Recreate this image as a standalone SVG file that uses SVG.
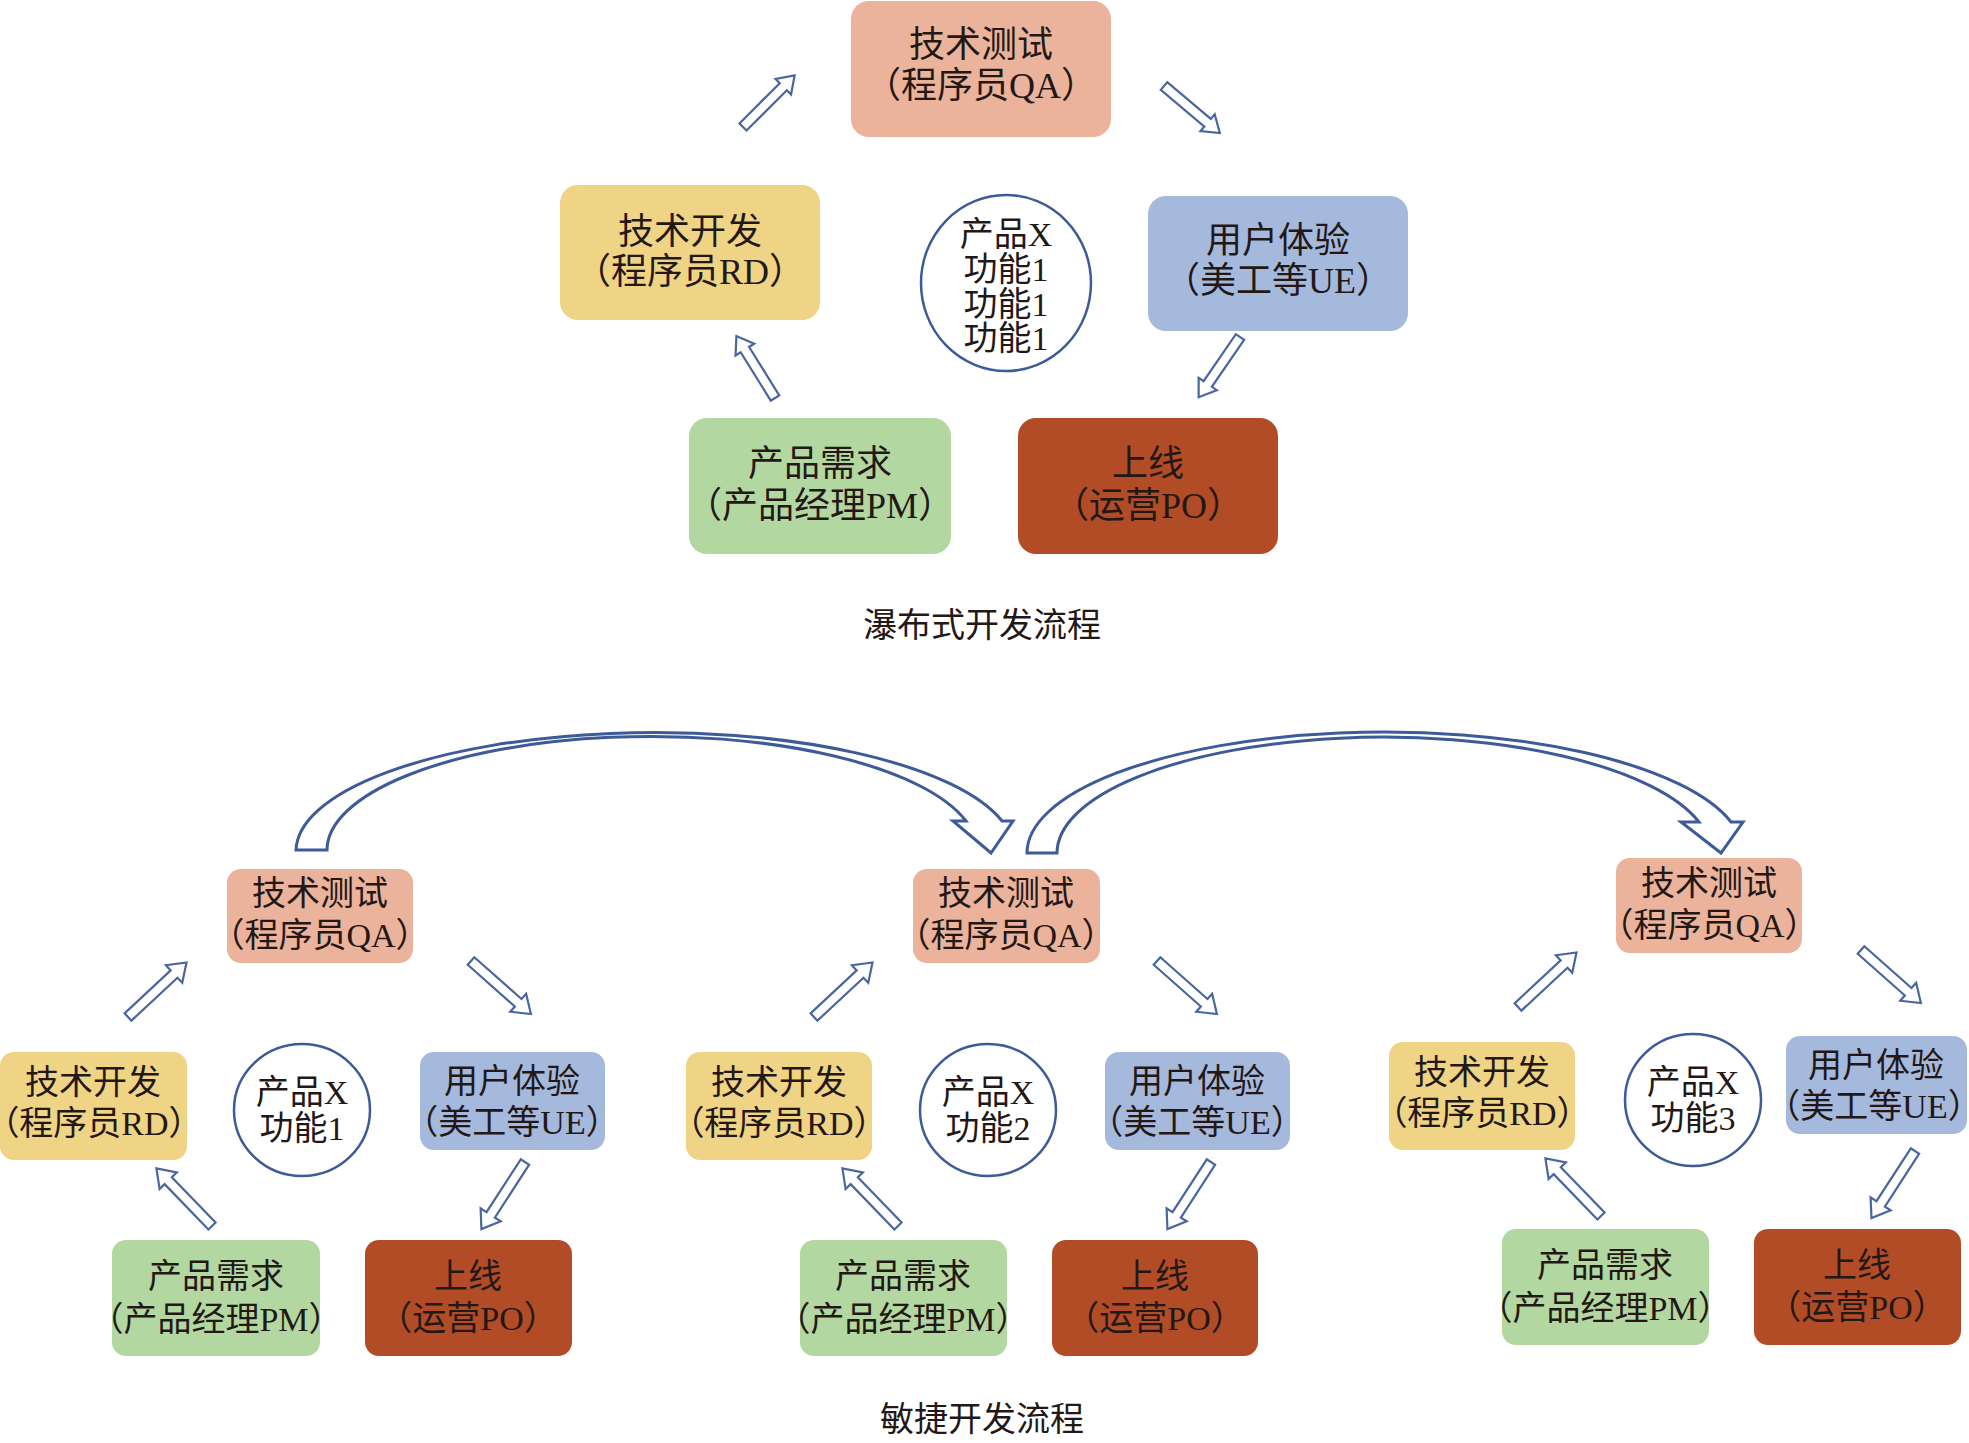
<svg xmlns="http://www.w3.org/2000/svg" xmlns:xlink="http://www.w3.org/1999/xlink" width="1969" height="1443" viewBox="0 0 1969 1443">
<style>
.qa{fill:#ebb39b}.rd{fill:#efd485}.ue{fill:#a5b9dd}.pm{fill:#b2d7a0}.po{fill:#b14c26}
text{font-family:"Liberation Serif","Noto Sans CJK SC",serif;fill:#231815;text-anchor:middle;font-feature-settings:"halt" 1}
.t1{font-size:36px}.t2{font-size:34px}
.cir{fill:#fff;stroke:#3d5a99;stroke-width:2.5}
.arr{fill:#fff;stroke:#4a66a0;stroke-width:2.2;stroke-linejoin:miter}
.curve{fill:#fff;stroke:#3d5a99;stroke-width:3}
</style>
<defs>
<path id="a1" d="M0,-5 H57 V-11 L73,0 L57,11 V5 H0 Z"/>
<path id="a2" d="M0,-5 H63 V-12 L80,0 L63,12 V5 H0 Z"/>
</defs>
<rect width="1969" height="1443" fill="#fff"/>

<!-- Waterfall -->
<g id="w-qa"><rect class="qa" x="851" y="1" width="260" height="136" rx="18"/><text class="t1" x="981" y="57">技术测试</text><text class="t1" x="981" y="98">（程序员QA）</text></g>
<g id="w-rd"><rect class="rd" x="560" y="185" width="260" height="135" rx="18"/><text class="t1" x="690" y="244">技术开发</text><text class="t1" x="690" y="284">（程序员RD）</text></g>
<g id="w-center"><ellipse class="cir" cx="1006" cy="283" rx="85" ry="88"/><text class="t2" x="1006" y="246">产品X</text><text class="t2" x="1006" y="281">功能1</text><text class="t2" x="1006" y="316">功能1</text><text class="t2" x="1006" y="350">功能1</text></g>
<g id="w-ue"><rect class="ue" x="1148" y="196" width="260" height="135" rx="18"/><text class="t1" x="1278" y="253">用户体验</text><text class="t1" x="1278" y="293">（美工等UE）</text></g>
<g id="w-pm"><rect class="pm" x="689" y="418" width="262" height="136" rx="18"/><text class="t1" x="820" y="476">产品需求</text><text class="t1" x="820" y="518">（产品经理PM）</text></g>
<g id="w-po"><rect class="po" x="1018" y="418" width="260" height="136" rx="18"/><text class="t1" x="1148" y="476">上线</text><text class="t1" x="1148" y="518">（运营PO）</text></g>
<text id="title1" class="t2" x="982" y="637">瀑布式开发流程</text>

<!-- Agile group 1 -->
<g id="g1-qa"><rect class="qa" x="227" y="869" width="186" height="94" rx="14"/><text class="t2" x="320" y="905">技术测试</text><text class="t2" x="320" y="947">（程序员QA）</text></g>
<g id="g1-rd"><rect class="rd" x="0" y="1052" width="187" height="108" rx="14"/><text class="t2" x="93" y="1094">技术开发</text><text class="t2" x="94" y="1135">（程序员RD）</text></g>
<g id="g1-c"><ellipse class="cir" cx="302" cy="1110" rx="68" ry="66"/><text class="t2" x="302" y="1104">产品X</text><text class="t2" x="302" y="1140">功能1</text></g>
<g id="g1-ue"><rect class="ue" x="420" y="1052" width="185" height="98" rx="14"/><text class="t2" x="512" y="1093">用户体验</text><text class="t2" x="512" y="1134">（美工等UE）</text></g>
<g id="g1-pm"><rect class="pm" x="112" y="1240" width="208" height="116" rx="14"/><text class="t2" x="216" y="1288">产品需求</text><text class="t2" x="216" y="1331">（产品经理PM）</text></g>
<g id="g1-po"><rect class="po" x="365" y="1240" width="207" height="116" rx="14"/><text class="t2" x="468" y="1288">上线</text><text class="t2" x="468" y="1330">（运营PO）</text></g>

<!-- Agile group 2 -->
<g id="g2-qa"><rect class="qa" x="913" y="869" width="187" height="94" rx="14"/><text class="t2" x="1006" y="905">技术测试</text><text class="t2" x="1006" y="947">（程序员QA）</text></g>
<g id="g2-rd"><rect class="rd" x="686" y="1052" width="186" height="108" rx="14"/><text class="t2" x="779" y="1094">技术开发</text><text class="t2" x="779" y="1135">（程序员RD）</text></g>
<g id="g2-c"><ellipse class="cir" cx="988" cy="1110" rx="68" ry="66"/><text class="t2" x="988" y="1104">产品X</text><text class="t2" x="988" y="1140">功能2</text></g>
<g id="g2-ue"><rect class="ue" x="1105" y="1052" width="185" height="98" rx="14"/><text class="t2" x="1197" y="1093">用户体验</text><text class="t2" x="1197" y="1134">（美工等UE）</text></g>
<g id="g2-pm"><rect class="pm" x="800" y="1240" width="207" height="116" rx="14"/><text class="t2" x="903" y="1288">产品需求</text><text class="t2" x="903" y="1331">（产品经理PM）</text></g>
<g id="g2-po"><rect class="po" x="1052" y="1240" width="206" height="116" rx="14"/><text class="t2" x="1155" y="1288">上线</text><text class="t2" x="1155" y="1330">（运营PO）</text></g>

<!-- Agile group 3 -->
<g id="g3-qa"><rect class="qa" x="1616" y="858" width="186" height="95" rx="14"/><text class="t2" x="1709" y="895">技术测试</text><text class="t2" x="1709" y="937">（程序员QA）</text></g>
<g id="g3-rd"><rect class="rd" x="1389" y="1042" width="186" height="108" rx="14"/><text class="t2" x="1482" y="1084">技术开发</text><text class="t2" x="1482" y="1125">（程序员RD）</text></g>
<g id="g3-c"><ellipse class="cir" cx="1693" cy="1100" rx="68" ry="66"/><text class="t2" x="1693" y="1094">产品X</text><text class="t2" x="1693" y="1130">功能3</text></g>
<g id="g3-ue"><rect class="ue" x="1786" y="1036" width="181" height="98" rx="14"/><text class="t2" x="1876" y="1077">用户体验</text><text class="t2" x="1874" y="1118">（美工等UE）</text></g>
<g id="g3-pm"><rect class="pm" x="1502" y="1229" width="207" height="116" rx="14"/><text class="t2" x="1605" y="1277">产品需求</text><text class="t2" x="1605" y="1320">（产品经理PM）</text></g>
<g id="g3-po"><rect class="po" x="1754" y="1229" width="207" height="116" rx="14"/><text class="t2" x="1857" y="1277">上线</text><text class="t2" x="1857" y="1319">（运营PO）</text></g>

<text id="title2" class="t2" x="982" y="1431">敏捷开发流程</text>

<g id="connectors">
<use href="#a1" class="arr" transform="translate(743,127) rotate(-45)"/>
<use href="#a1" class="arr" transform="translate(1164,86) rotate(40.1)"/>
<use href="#a1" class="arr" transform="translate(1240,337) rotate(124.5)"/>
<use href="#a1" class="arr" transform="translate(775,398) rotate(-121.9)"/>

<use href="#a2" class="arr" transform="translate(128,1017) rotate(-43)"/>
<use href="#a2" class="arr" transform="translate(471,961) rotate(41.5)"/>
<use href="#a2" class="arr" transform="translate(525,1162) rotate(123)"/>
<use href="#a2" class="arr" transform="translate(212,1226) rotate(-134)"/>

<use href="#a2" class="arr" transform="translate(814,1017) rotate(-43)"/>
<use href="#a2" class="arr" transform="translate(1157,961) rotate(41.5)"/>
<use href="#a2" class="arr" transform="translate(1211,1162) rotate(123)"/>
<use href="#a2" class="arr" transform="translate(898,1226) rotate(-134)"/>

<use href="#a2" class="arr" transform="translate(1518,1007) rotate(-43)"/>
<use href="#a2" class="arr" transform="translate(1861,950) rotate(41.5)"/>
<use href="#a2" class="arr" transform="translate(1915,1151) rotate(123)"/>
<use href="#a2" class="arr" transform="translate(1601,1216) rotate(-134)"/>

<path class="curve" d="M296,850 A359,119 0 0 1 1002,821 L1013,821 L991,853 L953,821 L966,821 A325,114 0 0 0 327,850 Z"/>
<path class="curve" d="M1027,853 A358,121 0 0 1 1731,822 L1743,822 L1721,853 L1681,822 L1699,822 A327,116 0 0 0 1057,853 Z"/>
</g>
</svg>
